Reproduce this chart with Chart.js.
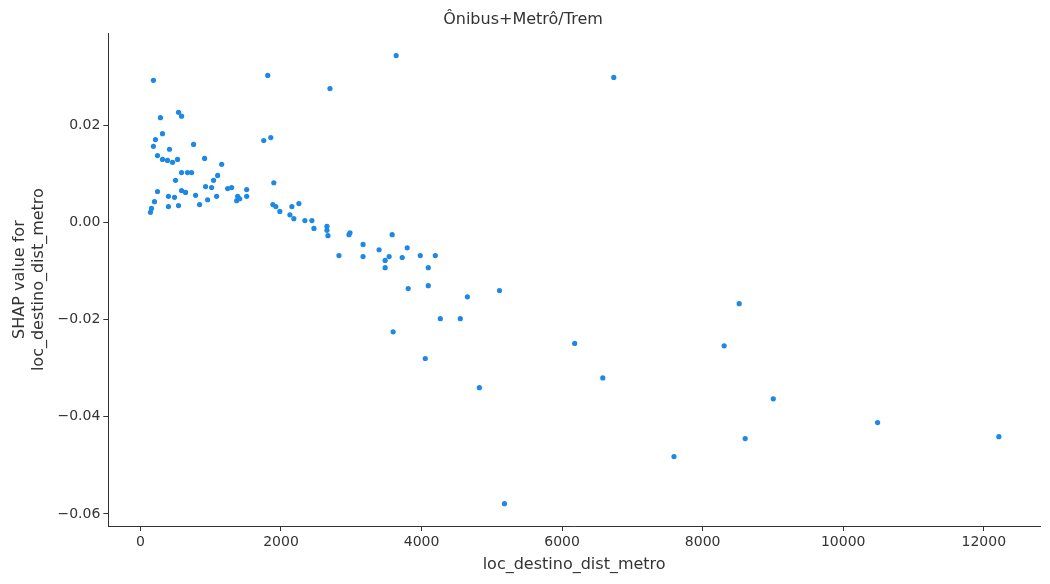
<!DOCTYPE html>
<html>
<head>
<meta charset="utf-8">
<script src="https://cdn.jsdelivr.net/npm/chart.js@4"></script>
<style>
  body { margin: 0; background: #fff; }
  #wrap { width: 1050px; height: 584px; }
</style>
</head>
<body>
<div id="wrap"><canvas id="c" width="1050" height="584"></canvas></div>
<script>
// distance to metro (x) and SHAP value (y)
const distValues = [185, 1812, 3639, 2697, 6735, 285, 542, 585, 314, 214, 185, 756, 414, 243, 314, 385, 457, 528, 913, 1156,
  1755, 1855, 585, 670, 728, 499, 1099, 1041, 1898, 585, 642, 243, 927, 1013, 1241, 1298, 1512, 399, 485, 785,
  1084, 1384, 1512, 1413, 1370, 956, 842, 542, 399, 200, 157, 143, 1884, 1927, 1984, 2155, 2255, 2127, 2183, 2340,
  2440, 2469, 2654, 2654, 2668, 2825, 2982, 2968, 3168, 3168, 3396, 3482, 3539, 3482, 3582, 3725, 3796, 3982, 4196, 4096,
  3810, 4096, 4652, 5109, 4267, 4552, 3596, 4053, 4823, 5180, 6179, 6579, 7592, 8306, 8520, 8605, 9005, 10489, 12215];
const shapValues = [0.0293, 0.0303, 0.0344, 0.0276, 0.0299, 0.0216, 0.0227, 0.0219, 0.0183, 0.0171, 0.0157, 0.0161, 0.0151, 0.0138, 0.0130, 0.0128, 0.0124, 0.0130, 0.0132, 0.0120,
  0.0169, 0.0175, 0.0103, 0.0103, 0.0103, 0.0087, 0.0097, 0.0087, 0.0082, 0.0066, 0.0062, 0.0064, 0.0074, 0.0072, 0.0070, 0.0072, 0.0068, 0.0054, 0.0052, 0.0056,
  0.0054, 0.0054, 0.0054, 0.0049, 0.0045, 0.0047, 0.0037, 0.0035, 0.0033, 0.0043, 0.0029, 0.0021, 0.0037, 0.0033, 0.0023, 0.0033, 0.0039, 0.0016, 0.0008, 0.0004,
  0.0004, -0.0012, -0.0008, -0.0016, -0.0027, -0.0068, -0.0021, -0.0025, -0.0045, -0.0070, -0.0056, -0.0078, -0.0070, -0.0093, -0.0025, -0.0072, -0.0052, -0.0068, -0.0068, -0.0093,
  -0.0136, -0.0130, -0.0153, -0.0140, -0.0198, -0.0198, -0.0225, -0.0280, -0.0340, -0.0579, -0.0249, -0.0320, -0.0482, -0.0254, -0.0167, -0.0445, -0.0363, -0.0412, -0.0441];
const xTicks = [0, 2000, 4000, 6000, 8000, 10000, 12000];
const yTicks = [-0.06, -0.04, -0.02, 0.00, 0.02];

const points = distValues.map((d, i) => ({ x: d, y: shapValues[i] }));
const txt = "#333";
const font = "'DejaVu Sans', sans-serif";

new Chart(document.getElementById("c"), {
  type: "scatter",
  data: {
    datasets: [{
      data: points,
      backgroundColor: "#1E88E5",
      borderWidth: 0,
      pointRadius: 2.6,
    }]
  },
  options: {
    responsive: false, animation: false,
    layout: { padding: { left: 6, right: 10, top: 4, bottom: 6 } },
    plugins: {
      legend: { display: false },
      tooltip: { enabled: false },
      title: { display: true, text: "Ônibus+Metrô/Trem", color: txt, font: { family: font, size: 16, weight: "normal" }, padding: { top: 6, bottom: 4 } }
    },
    scales: {
      x: {
        min: -457, max: 12800,
        afterBuildTicks: ax => { ax.ticks = xTicks.map(v => ({ value: v })); },
        ticks: { color: txt, font: { family: font, size: 14 }, callback: v => String(v) },
        grid: { drawOnChartArea: false, drawTicks: true, tickLength: 5, color: "#333" },
        border: { display: true, color: "#333" },
        title: { display: true, text: "loc_destino_dist_metro", color: txt, font: { family: font, size: 16 }, padding: { top: 1 } }
      },
      y: {
        min: -0.0625, max: 0.039,
        afterBuildTicks: ax => { ax.ticks = yTicks.map(v => ({ value: v })); },
        ticks: { color: txt, font: { family: font, size: 14 }, callback: v => v.toFixed(2).replace("-", "\u2212") },
        grid: { drawOnChartArea: false, drawTicks: true, tickLength: 5, color: "#333" },
        border: { display: true, color: "#333" },
        title: { display: true, text: ["SHAP value for", "loc_destino_dist_metro"], color: txt, font: { family: font, size: 16 }, padding: { bottom: 6 } }
      }
    }
  }
});
</script>
</body>
</html>
